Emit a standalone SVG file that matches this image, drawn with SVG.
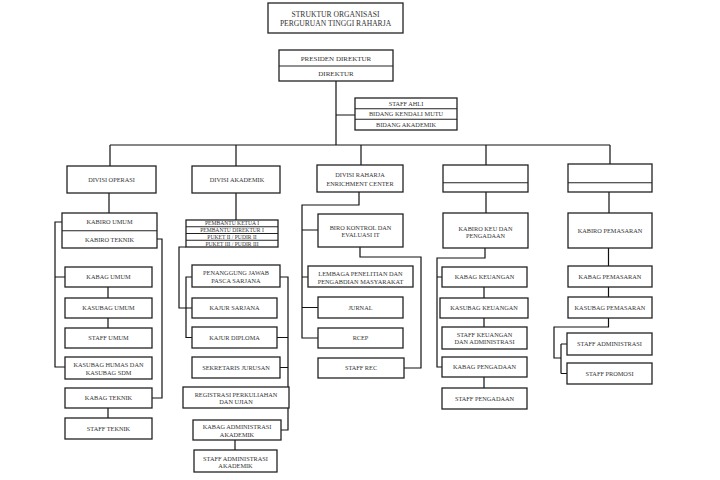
<svg xmlns="http://www.w3.org/2000/svg" width="720" height="480" viewBox="0 0 720 480">
<style>
.b{fill:#fff;stroke:#222;stroke-width:1.3}
.d{stroke:#222;stroke-width:1.1;fill:none}
.c path,.c line{stroke:#111;stroke-width:1.2;fill:none}
text{font-family:"Liberation Serif","DejaVu Serif",serif;font-size:6.3px;fill:#333;text-anchor:middle}
.s{font-size:5.6px}
.t{font-size:7.6px}
.p{font-size:7px}
</style>
<rect width="720" height="480" fill="#fff"/>
<g id="connectors" class="c">
<path d="M110,145 H610"/>
<path d="M336,81 V145 M336,115 H355"/>
<path d="M110,145 V166 M109,193 V213"/>
<path d="M62,222 H55 V367 H65 M55,277 H65"/>
<path d="M157,239 H162 V398 H152"/>
<path d="M108,287 V298 M108,318 V328 M108,408 V418"/>
<path d="M236,145 V166 M236,193 V220"/>
<path d="M186,247 H179 V308 H192"/>
<path d="M192,277 H186 V337.5 H192"/>
<path d="M280,277 H288 V430 H281 M277,337.5 H288 M280,367.5 H288"/>
<path d="M235,440 V450"/>
<path d="M361,145 V165"/>
<path d="M359,192 V205 H302 V338 H318 M302,230 H318 M302,277 H308 M302,307.5 H318"/>
<path d="M360,247 V257 H421 V368 H404"/>
<path d="M486,145 V165 M486,192 V213"/>
<path d="M485,248 V258 H437 V367 H442 M437,277 H442"/>
<path d="M484,287 V298 M484,318 V327 M484,377 V388"/>
<path d="M610,145 V164 M609,192 V213 M608.5,248 V266 M608.5,287 V297"/>
<path d="M608.5,318 V327 H554 V358 H561 M561,344 V373.5 M561,344 H567 M561,373.5 H567"/>
</g>
<g id="title"><rect class="b" x="268" y="3" width="135" height="30"/><text class="t" x="335.5" y="17.3">STRUKTUR ORGANISASI</text><text class="t" x="335.5" y="25.9">PERGURUAN TINGGI RAHARJA</text></g>
<g id="presiden"><rect class="b" x="279" y="50" width="114" height="31"/><line class="d" x1="279" y1="66" x2="393" y2="66"/><text class="p" x="336" y="60.5">PRESIDEN DIREKTUR</text><text class="p" x="336" y="75.5">DIREKTUR</text></g>
<g id="staff-ahli"><rect class="b" x="355" y="98" width="102" height="32"/><line class="d" x1="355" y1="108.7" x2="457" y2="108.7"/><line class="d" x1="355" y1="119.3" x2="457" y2="119.3"/><text x="406" y="105.6">STAFF AHLI</text><text x="406" y="116.3">BIDANG KENDALI MUTU</text><text x="406" y="127">BIDANG AKADEMIK</text></g>
<g id="divisi-operasi"><rect class="b" x="67" y="166" width="89" height="27"/><text x="111.5" y="182.3">DIVISI OPERASI</text></g>
<g id="kabiro"><rect class="b" x="62" y="213" width="95" height="35"/><line class="d" x1="62" y1="230.7" x2="157" y2="230.7"/><text x="109.5" y="224.3">KABIRO UMUM</text><text x="109.5" y="241.6">KABIRO TEKNIK</text></g>
<g id="kabag-umum"><rect class="b" x="65" y="267" width="87" height="20"/><text x="108.5" y="279.3">KABAG UMUM</text></g>
<g id="kasubag-umum"><rect class="b" x="65" y="298" width="87" height="20"/><text x="108.5" y="310.3">KASUBAG UMUM</text></g>
<g id="staff-umum"><rect class="b" x="65" y="328" width="87" height="20"/><text x="108.5" y="340.3">STAFF UMUM</text></g>
<g id="kasubag-humas"><rect class="b" x="65" y="357" width="87" height="22"/><text x="108.5" y="367.3">KASUBAG HUMAS DAN</text><text x="108.5" y="375">KASUBAG SDM</text></g>
<g id="kabag-teknik"><rect class="b" x="65" y="388" width="87" height="20"/><text x="108.5" y="400.3">KABAG TEKNIK</text></g>
<g id="staff-teknik"><rect class="b" x="65" y="418" width="87" height="21"/><text x="108.5" y="430.8">STAFF TEKNIK</text></g>
<g id="divisi-akademik"><rect class="b" x="192" y="166" width="88" height="27"/><text x="237" y="182.3">DIVISI AKADEMIK</text></g>
<g id="pembantu"><rect class="b" x="186" y="220" width="92" height="27"/><line class="d" x1="186" y1="226.75" x2="278" y2="226.75"/><line class="d" x1="186" y1="233.5" x2="278" y2="233.5"/><line class="d" x1="186" y1="240.25" x2="278" y2="240.25"/><text class="s" x="232" y="225.4">PEMBANTU KETUA I</text><text class="s" x="232" y="232.1">PEMBANTU DIREKTUR I</text><text class="s" x="232" y="238.9">PUKET II / PUDIR II</text><text class="s" x="232" y="245.6">PUKET III / PUDIR III</text></g>
<g id="penanggung"><rect class="b" x="192" y="265" width="88" height="22"/><text x="236" y="275.3">PENANGGUNG JAWAB</text><text x="236" y="282.8">PASCA SARJANA</text></g>
<g id="kajur-sarjana"><rect class="b" x="192" y="298" width="85" height="20"/><text x="234.5" y="310.3">KAJUR SARJANA</text></g>
<g id="kajur-diploma"><rect class="b" x="192" y="327" width="85" height="21"/><text x="234.5" y="339.8">KAJUR DIPLOMA</text></g>
<g id="sekretaris"><rect class="b" x="192" y="357" width="88" height="21"/><text x="236" y="369.8">SEKRETARIS JURUSAN</text></g>
<g id="registrasi"><rect class="b" x="183" y="387" width="106" height="21"/><text x="236" y="396.8">REGISTRASI PERKULIAHAN</text><text x="236" y="404.3">DAN UJIAN</text></g>
<g id="kabag-admin"><rect class="b" x="193" y="420" width="88" height="20"/><text x="237" y="429">KABAG ADMINISTRASI</text><text x="237" y="436.6">AKADEMIK</text></g>
<g id="staff-admin-akademik"><rect class="b" x="194" y="450" width="83" height="22"/><text x="235.5" y="460.6">STAFF ADMINISTRASI</text><text x="235.5" y="468.3">AKADEMIK</text></g>
<g id="divisi-rec"><rect class="b" x="317" y="165" width="86" height="27"/><text x="360" y="177.3">DIVISI RAHARJA</text><text x="360" y="185.6">ENRICHMENT CENTER</text></g>
<g id="biro-kontrol"><rect class="b" x="318" y="214" width="85" height="33"/><text x="360.5" y="229.6">BIRO KONTROL DAN</text><text x="360.5" y="236.8">EVALUASI IT</text></g>
<g id="lembaga"><rect class="b" x="308" y="266" width="105" height="21"/><text x="360.5" y="276.3">LEMBAGA PENELITIAN DAN</text><text x="360.5" y="283.8">PENGABDIAN MASYARAKAT</text></g>
<g id="jurnal"><rect class="b" x="318" y="297" width="85" height="21"/><text x="360.5" y="309.8">JURNAL</text></g>
<g id="rcep"><rect class="b" x="318" y="328" width="85" height="20"/><text x="360.5" y="340.3">RCEP</text></g>
<g id="staff-rec"><rect class="b" x="318" y="358" width="86" height="20"/><text x="361" y="370.3">STAFF REC</text></g>
<g id="divisi-keu"><rect class="b" x="443" y="165" width="85" height="27"/><line class="d" x1="443" y1="182.7" x2="528" y2="182.7"/></g>
<g id="kabiro-keu"><rect class="b" x="443" y="213" width="85" height="35"/><text x="485.5" y="230.6">KABIRO KEU DAN</text><text x="485.5" y="237.6">PENGADAAN</text></g>
<g id="kabag-keuangan"><rect class="b" x="442" y="267" width="85" height="20"/><text x="484.5" y="279.3">KABAG KEUANGAN</text></g>
<g id="kasubag-keuangan"><rect class="b" x="440" y="298" width="88" height="20"/><text x="484" y="310.3">KASUBAG KEUANGAN</text></g>
<g id="staff-keuangan"><rect class="b" x="442" y="327" width="85" height="22"/><text x="484.5" y="337.3">STAFF KEUANGAN</text><text x="484.5" y="344.3">DAN ADMINISTRASI</text></g>
<g id="kabag-pengadaan"><rect class="b" x="442" y="357" width="85" height="20"/><text x="484.5" y="369.3">KABAG PENGADAAN</text></g>
<g id="staff-pengadaan"><rect class="b" x="442" y="388" width="85" height="21"/><text x="484.5" y="400.8">STAFF PENGADAAN</text></g>
<g id="divisi-pemasaran"><rect class="b" x="568" y="164" width="84" height="28"/><line class="d" x1="568" y1="182.7" x2="652" y2="182.7"/></g>
<g id="kabiro-pemasaran"><rect class="b" x="568" y="213" width="84" height="35"/><text x="610" y="233">KABIRO PEMASARAN</text></g>
<g id="kabag-pemasaran"><rect class="b" x="568" y="266" width="84" height="21"/><text x="610" y="278.8">KABAG PEMASARAN</text></g>
<g id="kasubag-pemasaran"><rect class="b" x="568" y="297" width="84" height="21"/><text x="610" y="309.8">KASUBAG PEMASARAN</text></g>
<g id="staff-administrasi"><rect class="b" x="567" y="333" width="85" height="22"/><text x="609.5" y="346.3">STAFF ADMINISTRASI</text></g>
<g id="staff-promosi"><rect class="b" x="567" y="363" width="85" height="21"/><text x="609.5" y="375.8">STAFF PROMOSI</text></g>
</svg>
